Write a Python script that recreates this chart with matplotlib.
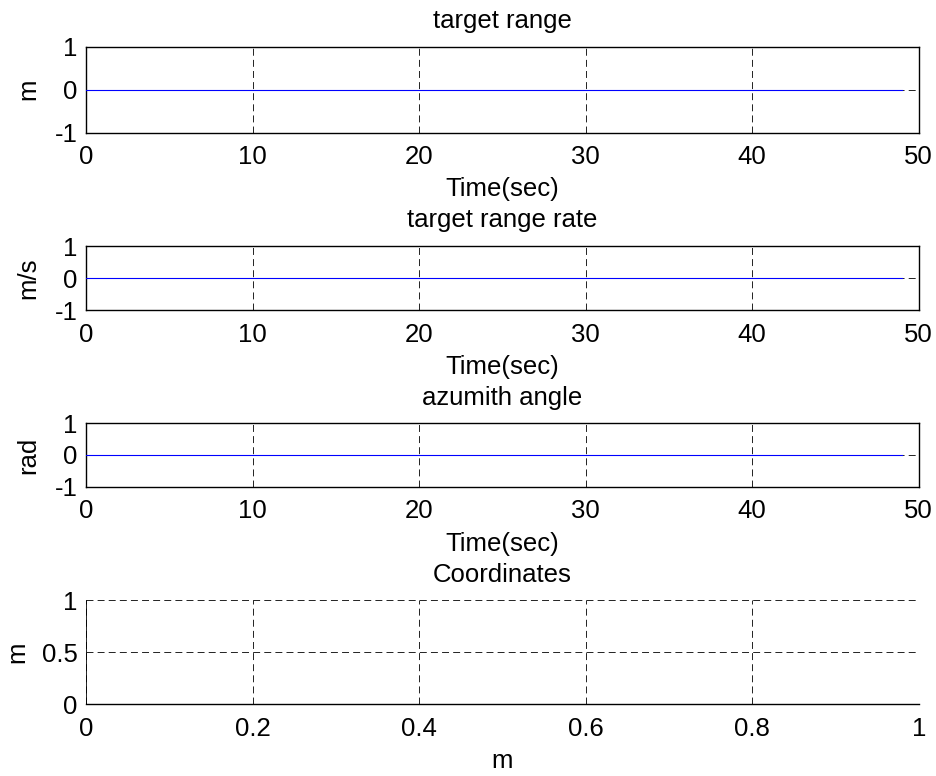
import numpy as np
import matplotlib
matplotlib.use("Agg")
import matplotlib.pyplot as plt

# Simulation time base and recorded signals (all zero in this run)
time_sec = np.arange(0, 49.1, 0.1)
target_range = np.zeros_like(time_sec)
target_range_rate = np.zeros_like(time_sec)
azimuth_angle = np.zeros_like(time_sec)

time_ticks = [0, 10, 20, 30, 40, 50]
signal_ticks = [-1, 0, 1]
coord_xticks = [0, 0.2, 0.4, 0.6, 0.8, 1]
coord_yticks = [0, 0.5, 1]

panels = [
    ("target range", "m", target_range),
    ("target range rate", "m/s", target_range_rate),
    ("azumith angle", "rad", azimuth_angle),
]

plt.rcParams["font.family"] = ["Liberation Sans", "DejaVu Sans"]
FS = 18.5

fig = plt.figure(figsize=(9.36, 7.76), dpi=100)
W, H = 936.0, 776.0
left, right = 86.0, 918.7

def axes_px(top, bottom):
    return fig.add_axes([left / W, 1 - bottom / H, (right - left) / W, (bottom - top) / H])

boxes = [(46.5, 132.5), (246.0, 310.0), (423.3, 486.7)]
GLW = 0.7
grid_kw = dict(color="#222222", linestyle=(0, (5.0 / GLW, 3.0 / GLW)), linewidth=GLW)

for (title, ylab, series), (top, bottom) in zip(panels, boxes):
    ax = axes_px(top, bottom)
    ax.plot(time_sec, series, color="blue", linewidth=0.8, zorder=3)
    ax.set_xlim(0, 50)
    ax.set_ylim(-1, 1)
    ax.set_xticks(time_ticks)
    ax.set_yticks(signal_ticks)
    ax.set_xticklabels([str(t) for t in time_ticks], fontsize=FS)
    ax.set_yticklabels([str(t) for t in signal_ticks], fontsize=FS)
    ax.grid(True, **grid_kw)
    ax.set_axisbelow(True)
    ax.tick_params(axis="x", direction="in", length=0, pad=9)
    ax.tick_params(axis="y", direction="in", length=0, pad=6)
    for s in ax.spines.values():
        s.set_linewidth(1.0)
    ax.set_title(title, fontsize=FS, pad=13.5)
    ax.set_xlabel("Time(sec)", fontsize=FS, labelpad=6)
    ax.set_ylabel(ylab, fontsize=FS, labelpad=10.5)

ax4 = axes_px(600.0, 704.3)
ax4.set_xlim(0, 1)
ax4.set_ylim(0, 1)
ax4.set_xticks(coord_xticks)
ax4.set_yticks(coord_yticks)
ax4.set_xticklabels(["0", "0.2", "0.4", "0.6", "0.8", "1"], fontsize=FS)
ax4.set_yticklabels(["0", "0.5", "1"], fontsize=FS)
ax4.grid(True, **grid_kw)
ax4.tick_params(axis="x", direction="in", length=0, pad=9)
ax4.tick_params(axis="y", direction="in", length=0, pad=6)
ax4.spines["top"].set_visible(False)
ax4.spines["right"].set_visible(False)
ax4.spines["left"].set_linewidth(0.6)
ax4.spines["bottom"].set_linewidth(1.0)
ax4.set_title("Coordinates", fontsize=FS, pad=13)
ax4.set_xlabel("m", fontsize=FS, labelpad=6)
ax4.set_ylabel("m", fontsize=FS, labelpad=9)

fig.savefig("out.png", dpi=100)
